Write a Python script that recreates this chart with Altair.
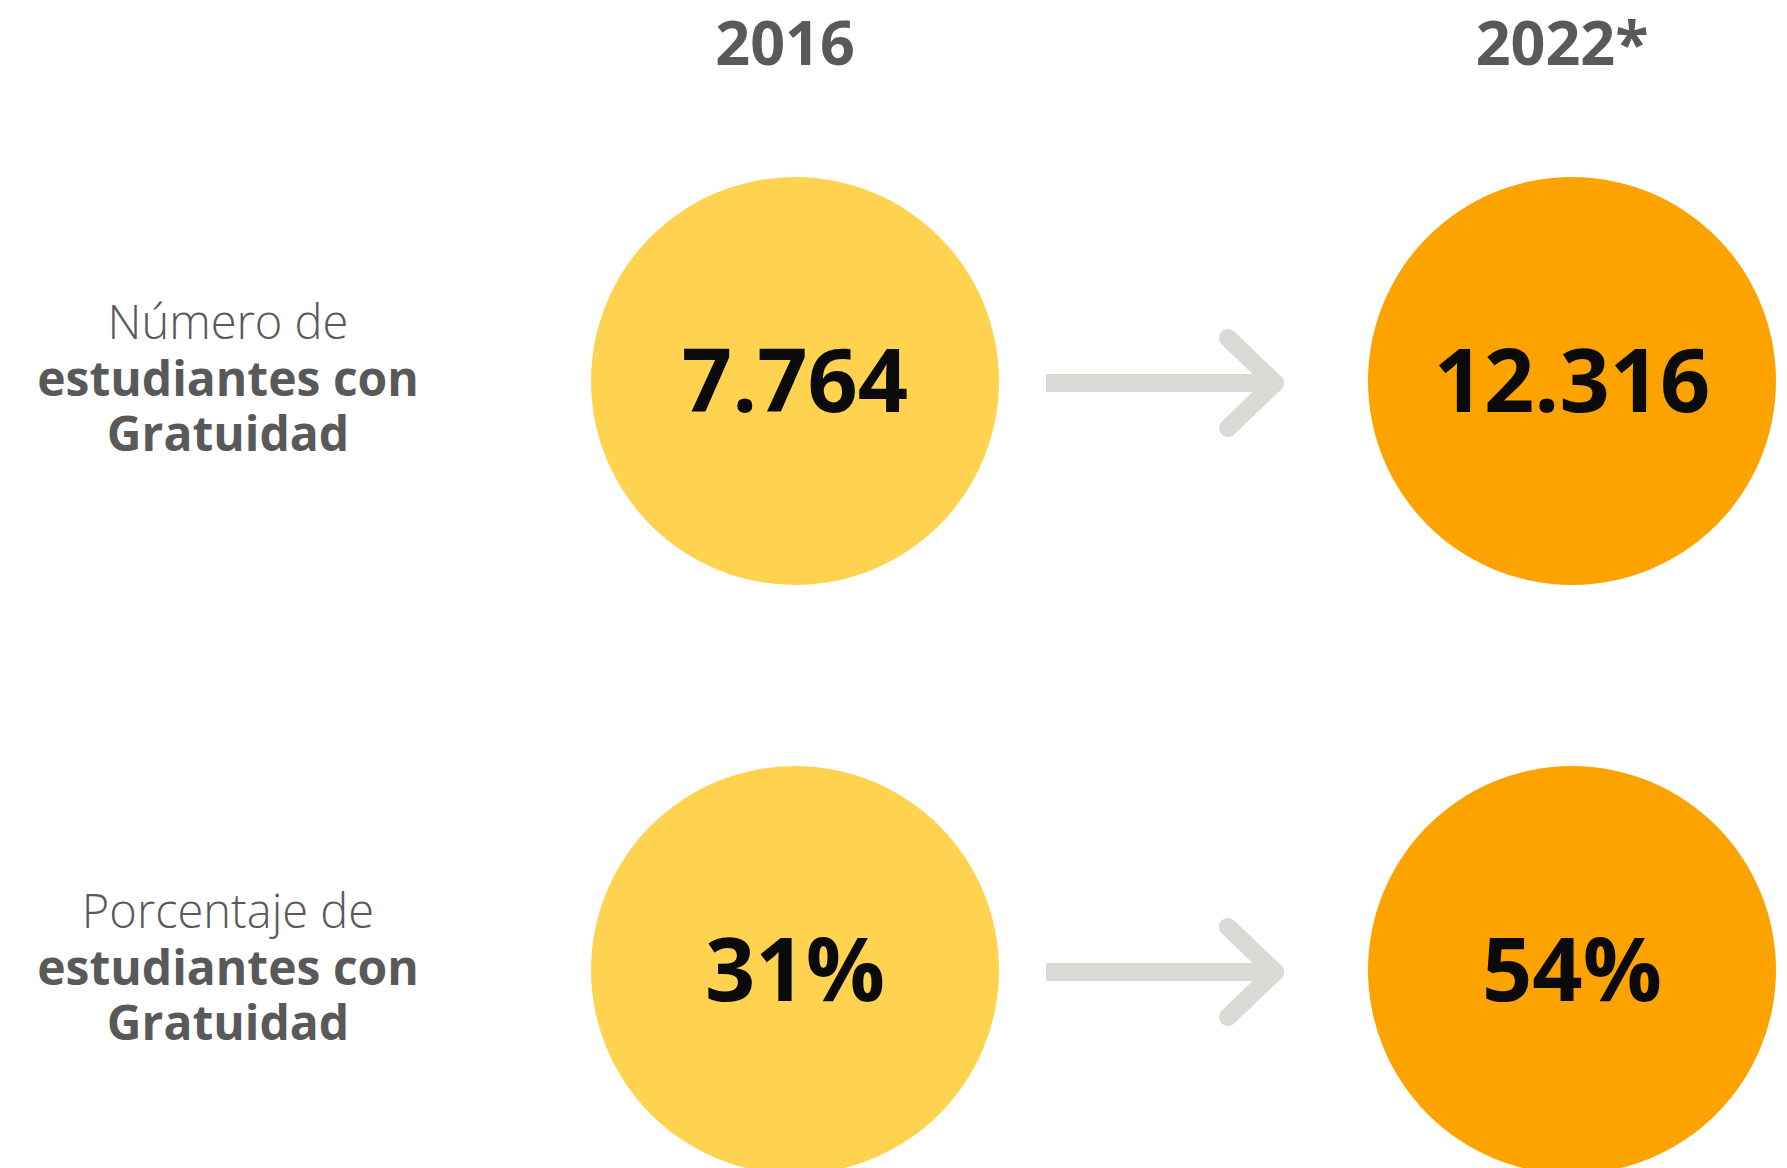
import altair as alt
import pandas as pd

# ---- data ----
years = ["2016", "2022*"]
metric_intro = ["Número de", "Porcentaje de"]
metric_rest = ["estudiantes con", "Gratuidad"]
values_2016 = ["7.764", "31%"]
values_2022 = ["12.316", "54%"]

# ---- layout (reference pixel space) ----
col_x = {"2016": 795, "2022*": 1572}
row_y = [381, 970]
header_y = 47
label_x = 228
light_dy = -56
bold_dy = 1
line_h = 55
num_dy = 5
arrow_x0, arrow_tip = 1046, 1275
head_dx, head_dy = 47, 45
radius = 204

YELLOW = "#FFD34F"
ORANGE = "#FDA300"
GRAY = "#595959"
ARROW = "#D9D9D5"
FONT = "Open Sans"

W, H = 1771, 1160
xs = alt.Scale(domain=[8, 8 + W], nice=False, zero=False)
ys = alt.Scale(domain=[8, 8 + H], nice=False, zero=False, reverse=True)

def X(f="x"):
    return alt.X(f"{f}:Q", scale=xs, axis=None)

def Y(f="y"):
    return alt.Y(f"{f}:Q", scale=ys, axis=None)

# circles + values
rows = []
for r, (a, b) in enumerate(zip(values_2016, values_2022)):
    rows.append({"year": years[0], "label": a, "x": col_x[years[0]], "y": row_y[r]})
    rows.append({"year": years[1], "label": b, "x": col_x[years[1]], "y": row_y[r]})
cdf = pd.DataFrame(rows)
cdf["ty"] = cdf["y"] + num_dy

circles = alt.Chart(cdf).mark_circle(opacity=1, size=(2 * radius) ** 2, clip=False).encode(
    x=X(), y=Y(),
    color=alt.Color("year:N", scale=alt.Scale(domain=years, range=[YELLOW, ORANGE]), legend=None),
)
nums = alt.Chart(cdf).mark_text(font=FONT, fontWeight="bold", fontSize=88, color="#0A0A0A",
                                baseline="middle", align="center").encode(
    x=X(), y=Y("ty"), text="label:N")

# headers
hdf = pd.DataFrame({"label": years, "x": [col_x[y] - 10 for y in years], "y": [header_y] * 2})
headers = alt.Chart(hdf).mark_text(font=FONT, fontWeight="bold", fontSize=61, color=GRAY,
                                   baseline="middle", align="center").encode(
    x=X(), y=Y(), text="label:N")

# row labels
lrows_light, lrows_bold = [], []
for r, intro in enumerate(metric_intro):
    lrows_light.append({"label": intro, "x": label_x, "y": row_y[r] + light_dy})
    lrows_bold.append({"label": list(metric_rest), "x": label_x, "y": row_y[r] + bold_dy})
light = alt.Chart(pd.DataFrame(lrows_light)).mark_text(
    font=FONT, fontWeight=300, fontSize=47, color=GRAY, baseline="middle", align="center"
).encode(x=X(), y=Y(), text="label:N")
bold = alt.Chart(pd.DataFrame(lrows_bold)).mark_text(
    font=FONT, fontWeight="bold", fontSize=48, color=GRAY, baseline="middle", align="center",
    lineHeight=line_h
).encode(x=X(), y=Y(), text="label")

# arrows
shaft_rows, head_rows = [], []
for y in row_y:
    yc = y + 2
    shaft_rows.append({"x": arrow_x0, "y": yc, "x2": arrow_tip - 4, "y2": yc})
    head_rows.append({"x": arrow_tip - head_dx, "y": yc - head_dy, "x2": arrow_tip, "y2": yc})
    head_rows.append({"x": arrow_tip - head_dx, "y": yc + head_dy, "x2": arrow_tip, "y2": yc})
shaft = alt.Chart(pd.DataFrame(shaft_rows)).mark_rule(color=ARROW, strokeWidth=18, strokeCap="butt").encode(
    x=X(), y=Y(), x2="x2:Q", y2="y2:Q")
heads = alt.Chart(pd.DataFrame(head_rows)).mark_rule(color=ARROW, strokeWidth=18, strokeCap="round").encode(
    x=X(), y=Y(), x2="x2:Q", y2="y2:Q")

chart = alt.layer(shaft, heads, circles, nums, headers, light, bold).properties(
    width=W, height=H, autosize=alt.AutoSizeParams(type="none"), padding=0, background="white"
).configure_view(stroke=None)

chart.save("out.html", embed_options={"renderer": "svg", "actions": False})
